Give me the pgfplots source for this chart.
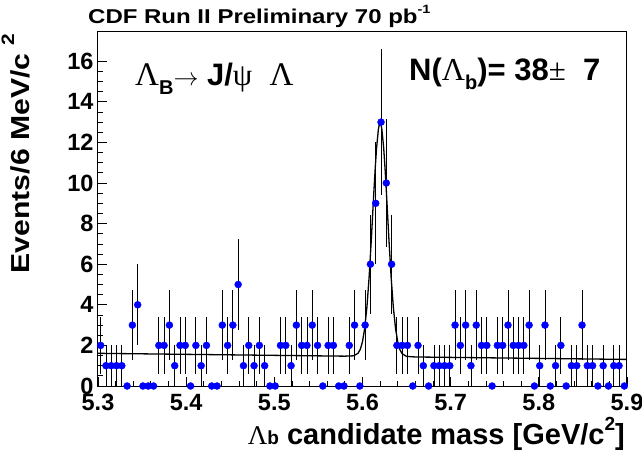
\documentclass[border=0pt]{standalone}
\usepackage{fontspec}
\setmainfont{Liberation Sans}
\newfontfamily\serifgr{Liberation Serif}
\usepackage{pgfplots}
\pgfplotsset{compat=1.18}
\usepackage{pgfplotstable}

\pgfplotstableread{
x y e
5.303 2 1.414
5.309 1 1
5.315 1 1
5.321 1 1
5.327 1 1
5.333 0 0
5.339 3 1.732
5.345 4 2
5.351 0 0
5.357 0 0
5.363 0 0
5.369 2 1.414
5.375 2 1.414
5.381 3 1.732
5.387 1 1
5.393 2 1.414
5.399 2 1.414
5.405 0 0
5.411 2 1.414
5.417 1 1
5.423 2 1.414
5.429 0 0
5.435 0 0
5.441 3 1.732
5.447 2 1.414
5.453 3 1.732
5.459 5 2.236
5.465 1 1
5.471 2 1.414
5.477 1 1
5.483 2 1.414
5.489 1 1
5.495 0 0
5.501 0 0
5.507 2 1.414
5.513 2 1.414
5.519 1 1
5.525 3 1.732
5.531 2 1.414
5.537 2 1.414
5.543 3 1.732
5.549 2 1.414
5.555 0 0
5.561 2 1.414
5.567 2 1.414
5.573 0 0
5.579 0 0
5.585 2 1.414
5.591 3 1.732
5.597 0 0
5.603 3 1.732
5.609 6 2.449
5.615 9 3
5.621 13 3.606
5.627 10 3.162
5.633 6 2.449
5.639 2 1.414
5.645 2 1.414
5.651 2 1.414
5.657 0 0
5.663 2 1.414
5.669 1 1
5.675 0 0
5.681 1 1
5.687 1 1
5.693 1 1
5.699 1 1
5.705 3 1.732
5.711 2 1.414
5.717 3 1.732
5.723 1 1
5.729 3 1.732
5.735 2 1.414
5.741 2 1.414
5.747 0 0
5.753 2 1.414
5.759 2 1.414
5.765 3 1.732
5.771 2 1.414
5.777 2 1.414
5.783 2 1.414
5.789 3 1.732
5.795 0 0
5.801 1 1
5.807 3 1.732
5.813 0 0
5.819 1 1
5.825 2 1.414
5.831 0 0
5.837 1 1
5.843 1 1
5.849 3 1.732
5.855 1 1
5.861 1 1
5.867 0 0
5.873 1 1
5.879 0 0
5.885 1 1
5.891 1 1
5.897 0 0
}\datatable

\begin{document}
\begin{tikzpicture}
\begin{axis}[
  at={(0pt,0pt)}, anchor=south west,
  scale only axis, width=529pt, height=354pt,
  xmin=5.3, xmax=5.9, ymin=0, ymax=17.44,
  xtick={5.3,5.4,5.5,5.6,5.7,5.8,5.9},
  xticklabels={5.3,5.4,5.5,5.6,5.7,5.8,5.9},
  minor x tick num=4,
  ytick={0,2,4,6,8,10,12,14,16},
  minor y tick num=3,
  tick align=inside, xtick pos=left, ytick pos=left,
  major tick length=9pt, minor tick length=5pt,
  tick style={black, line width=0.8pt},
  axis line style={line width=1pt},
  ticklabel style={font=\fontsize{23.5}{23.5}\selectfont\bfseries},
  /pgf/number format/assume math mode=true,
  xticklabel shift=5pt,
  yticklabel style={xshift=-1pt},
]
\addplot[black, line width=1.3pt] coordinates {
(5.30,1.61) (5.50,1.51) (5.58,1.47) (5.59,1.488) (5.595,1.615) (5.5975,1.807)
(5.60,2.182) (5.6025,2.840) (5.605,3.882) (5.6075,5.356) (5.61,7.212)
(5.613,9.647) (5.6145,10.78) (5.616,11.747) (5.618,12.637) (5.619,12.87)
(5.620,12.95) (5.621,12.87) (5.622,12.635) (5.624,11.743) (5.6255,10.775)
(5.627,9.640) (5.630,7.202) (5.6325,5.344) (5.635,3.867) (5.6375,2.822)
(5.640,2.162) (5.6425,1.785) (5.645,1.590) (5.650,1.458) (5.66,1.43) (5.9,1.31)
};
\addplot[only marks, mark=*, mark size=3.5pt, color=blue,
  mark options={draw=blue, fill=blue},
  error bars/.cd, y dir=both, y explicit,
  error bar style={black, line width=0.8pt}, error mark=none]
  table[x=x, y=y, y error=e] {\datatable};
\end{axis}
\node[anchor=base west, font=\fontsize{20}{20}\selectfont\bfseries, inner sep=0pt] at (-10pt,362pt)
  {\scalebox{1.2}[1]{CDF Run II Preliminary 70 pb\raisebox{0.5em}{\fontsize{12}{12}\selectfont -1}}};
\node[rotate=90, anchor=east, font=\fontsize{26}{26}\selectfont\bfseries] at (-82pt,356pt)
  {\scalebox{1.16}[1]{Events/6 MeV/c \raisebox{0.6em}{\fontsize{18}{18}\selectfont 2}}};
\node[anchor=base east, font=\fontsize{29}{29}\selectfont\bfseries, inner sep=0pt] at (527pt,-58pt)
  {{\fontsize{27}{27}\selectfont\serifgr\mdseries Λ}{\fontsize{19}{19}\selectfont b} candidate mass [GeV/c\raisebox{0.45em}{\fontsize{19}{19}\selectfont 2}]};
\node[anchor=base west, font=\fontsize{31}{31}\selectfont\bfseries, inner sep=0pt] at (37pt,301pt)
  {{\fontsize{33}{33}\selectfont\serifgr\mdseries Λ}\raisebox{-0.3em}{\fontsize{20}{20}\selectfont B}{\fontsize{25}{25}\selectfont$\rightarrow$} J/{\serifgr\mdseries ψ}\ \ {\fontsize{33}{33}\selectfont\serifgr\mdseries Λ}};
\node[anchor=base west, font=\fontsize{31}{31}\selectfont\bfseries, inner sep=0pt] at (311pt,306pt)
  {N({\fontsize{32}{32}\selectfont\serifgr\mdseries Λ}\raisebox{-0.3em}{\fontsize{20}{20}\selectfont b})= 38{\serifgr\mdseries ±}\ \ 7};
\pgfresetboundingbox
\path (-98pt,-70pt) rectangle (544pt,386pt);
\end{tikzpicture}
\end{document}
